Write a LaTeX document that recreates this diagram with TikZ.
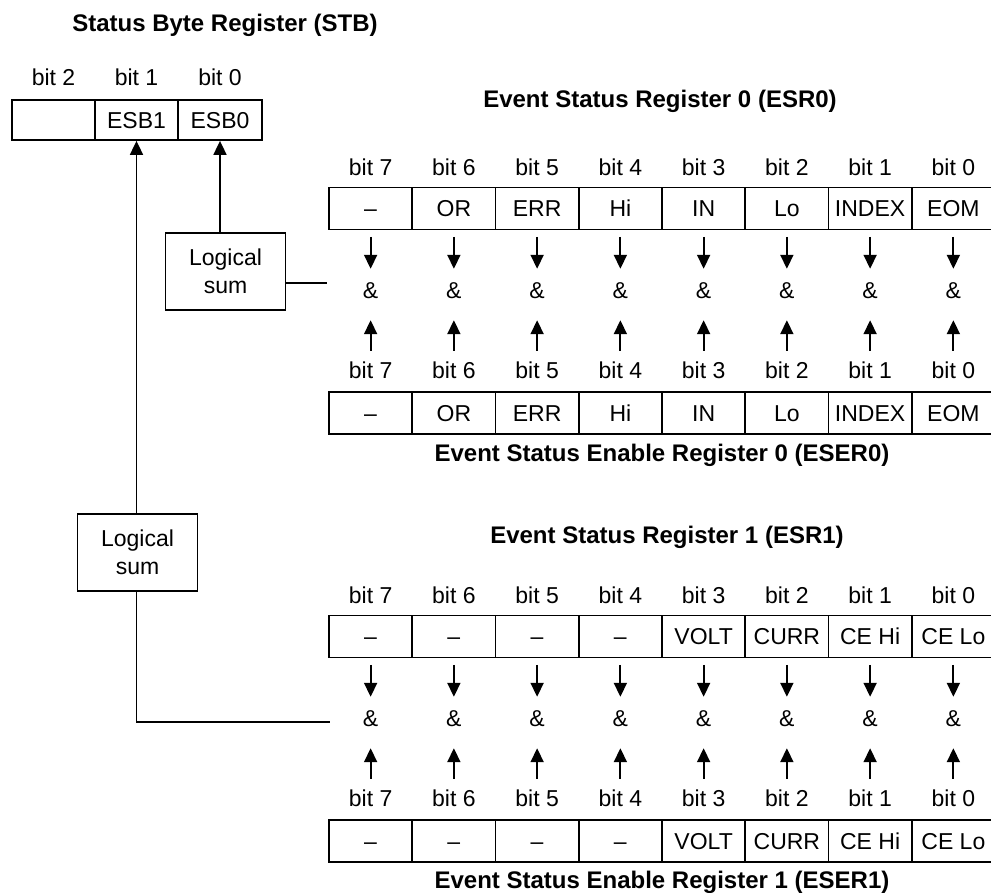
\documentclass[tikz,border=0pt]{standalone}
\usepackage{fontspec}
\setmainfont{Liberation Sans}
\usetikzlibrary{arrows.meta}
\newcommand\regblock[3]{%
 \foreach \t [count=\i from 0] in {#3} {
   \pgfmathsetmacro\cx{329+83.25*\i+41.625}
   \pgfmathtruncatemacro\b{7-\i}
   \node[lbl] (#1u\i) at (\cx,#2-41.5) {bit \b};
   \node[cell] (#1c\i) at (\cx,#2) {\t};
   \node[lbl] (#1a\i) at (\cx,#2+81.5) {\&};
   \node[lbl] (#1l\i) at (\cx,#2+162) {bit \b};
   \node[cell] (#1e\i) at (\cx,#2+204.5) {\t};
   \draw[arr,shorten <=6.5pt,shorten >=12.75pt] (#1c\i.south) -- (#1a\i.north);
   \draw[arr,shorten <=11.25pt,shorten >=21.75pt] (#1l\i.north) -- (#1a\i.south);
 }}
\begin{document}
\begin{tikzpicture}[x=1pt,y=-1pt,
  cell/.style={draw,line width=1.8pt,minimum width=83.25pt,minimum height=42pt,
    inner sep=0pt,text height=16.5pt,text depth=0pt,font=\fontsize{23}{27}\selectfont},
  lbl/.style={inner sep=0pt,text height=16.5pt,text depth=0pt,font=\fontsize{23}{27}\selectfont},
  ttl/.style={inner sep=0pt,font=\bfseries\fontsize{24}{28}\selectfont},
  arr/.style={line width=1.8pt,-{Triangle[length=14pt,width=13pt]}},
  ln/.style={line width=1.8pt},
  sumbox/.style={draw,line width=1.8pt,minimum width=120pt,minimum height=77pt,
    align=center,inner sep=0pt,font=\fontsize{23}{28}\selectfont}]
\useasboundingbox[fill=white] (0,0) rectangle (991,893);

% Status Byte Register
\node[ttl] (tstb) at (225,25) {Status Byte Register (STB)};
\node[lbl] (sl2) at (53.5,77) {bit 2};
\node[lbl] (sl1) at (136.5,77) {bit 1};
\node[lbl] (sl0) at (220,77) {bit 0};
\node[cell,minimum height=40pt] (stb2) at (53.5,120) {};
\node[cell,minimum height=40pt] (stb1) at (136.5,120) {ESB1};
\node[cell,minimum height=40pt] (stb0) at (220,120) {ESB0};

% Register 0
\node[ttl] (tesr0) at (660,101) {Event Status Register 0 (ESR0)};
\regblock{r0}{208.5}{–,OR,ERR,Hi,IN,Lo,INDEX,EOM}
\node[ttl] (teser0) at (662,455) {Event Status Enable Register 0 (ESER0)};

% Register 1
\node[ttl] (tesr1) at (667,537) {Event Status Register 1 (ESR1)};
\regblock{r1}{636.5}{–,–,–,–,VOLT,CURR,CE Hi,CE Lo}
\node[ttl] (teser1) at (662,882) {Event Status Enable Register 1 (ESER1)};

% Logical sums
\node[sumbox] (sum0) at (225.5,271.5) {Logical\\sum};
\node[sumbox] (sum1) at (137.5,552.5) {Logical\\sum};
\coordinate (e0) at (327,283);
\coordinate (e1) at (330,722);
\draw[ln] (sum0.east |- e0) -- (e0);
\draw[arr] (sum0.north -| stb0.south) -- (stb0.south);
\draw[ln] (sum1.south -| stb1.south) -- (stb1.south |- e1) -- (e1);
\draw[arr] (sum1.north -| stb1.south) -- (stb1.south);
\end{tikzpicture}
\end{document}
